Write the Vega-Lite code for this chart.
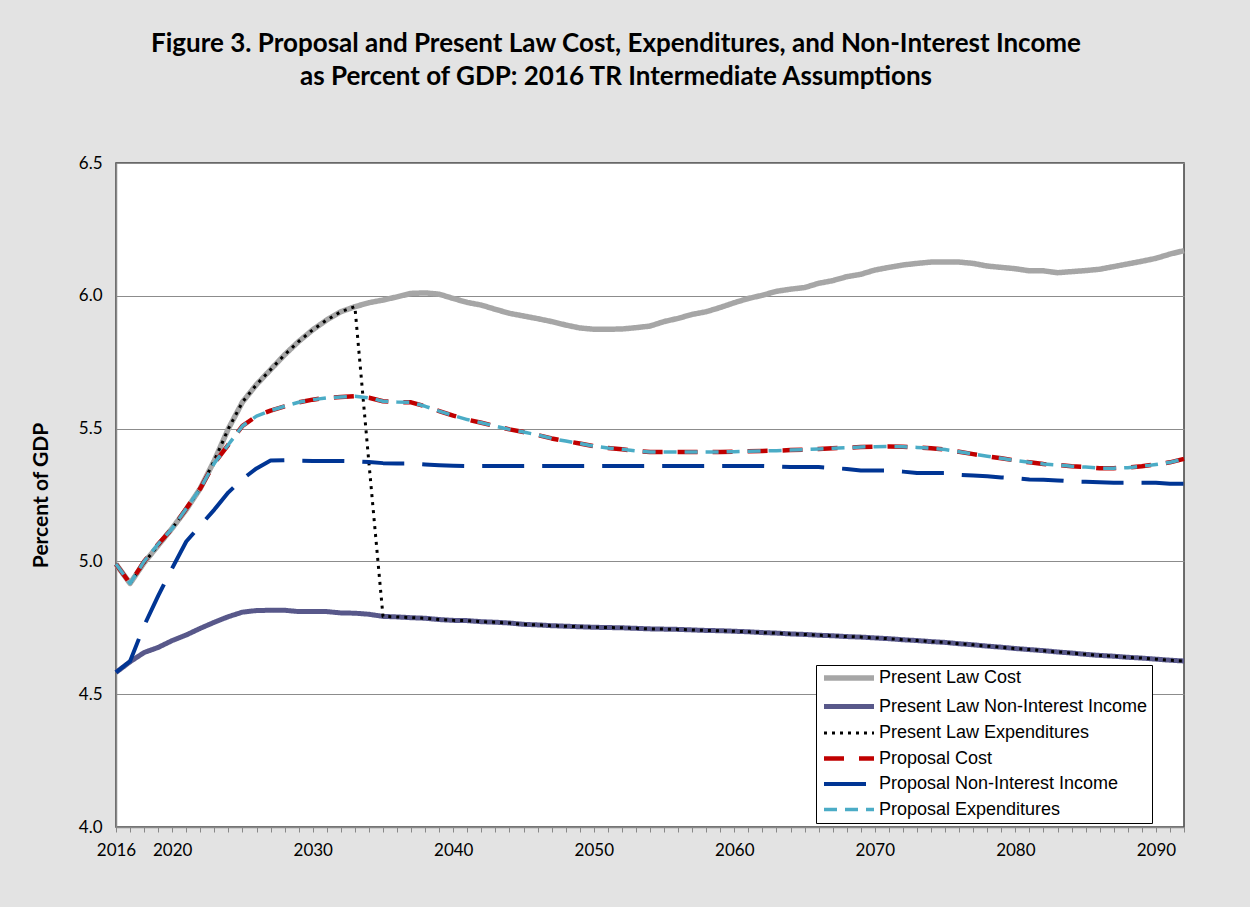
{
  "$schema": "https://vega.github.io/schema/vega-lite/v6.json",
  "width": 1068,
  "height": 664,
  "autosize": {"type": "none"},
  "padding": {"left": 116, "top": 163, "right": 66, "bottom": 80},
  "background": "#E3E3E3",
  "title": {
    "text": ["Figure 3. Proposal and Present Law Cost, Expenditures, and Non-Interest Income", "as Percent of GDP: 2016 TR Intermediate Assumptions"],
    "font": "Lato", "fontSize": 26, "fontWeight": "bold", "color": "#000000",
    "anchor": "middle", "lineHeight": 33, "offset": 64, "dx": -34
  },
  "config": {"view": {"fill": "white", "stroke": "#404040", "strokeWidth": 1.5}},
  "data": {"values": [
    {"year":2016,"plc":4.99,"pli":4.582,"ple":4.99,"pc":4.99,"pi":4.582,"pe":4.99},
    {"year":2017,"plc":4.917,"pli":4.622,"ple":4.917,"pc":4.917,"pi":4.624,"pe":4.917},
    {"year":2018,"plc":4.995,"pli":4.657,"ple":4.995,"pc":5.0,"pi":4.758,"pe":5.0},
    {"year":2019,"plc":5.06,"pli":4.676,"ple":5.06,"pc":5.065,"pi":4.87,"pe":5.065},
    {"year":2020,"plc":5.125,"pli":4.702,"ple":5.125,"pc":5.124,"pi":4.975,"pe":5.124},
    {"year":2021,"plc":5.195,"pli":4.723,"ple":5.195,"pc":5.199,"pi":5.075,"pe":5.199},
    {"year":2022,"plc":5.275,"pli":4.748,"ple":5.275,"pc":5.275,"pi":5.135,"pe":5.275},
    {"year":2023,"plc":5.38,"pli":4.771,"ple":5.38,"pc":5.37,"pi":5.195,"pe":5.37},
    {"year":2024,"plc":5.5,"pli":4.792,"ple":5.5,"pc":5.44,"pi":5.26,"pe":5.44},
    {"year":2025,"plc":5.6,"pli":4.809,"ple":5.6,"pc":5.51,"pi":5.31,"pe":5.51},
    {"year":2026,"plc":5.666,"pli":4.815,"ple":5.666,"pc":5.547,"pi":5.35,"pe":5.547},
    {"year":2027,"plc":5.722,"pli":4.816,"ple":5.722,"pc":5.568,"pi":5.38,"pe":5.568},
    {"year":2028,"plc":5.778,"pli":4.816,"ple":5.778,"pc":5.584,"pi":5.381,"pe":5.584},
    {"year":2029,"plc":5.828,"pli":4.811,"ple":5.828,"pc":5.599,"pi":5.379,"pe":5.599},
    {"year":2030,"plc":5.872,"pli":4.811,"ple":5.872,"pc":5.609,"pi":5.378,"pe":5.609},
    {"year":2031,"plc":5.909,"pli":4.811,"ple":5.909,"pc":5.616,"pi":5.378,"pe":5.616},
    {"year":2032,"plc":5.94,"pli":4.806,"ple":5.94,"pc":5.619,"pi":5.378,"pe":5.619},
    {"year":2033,"plc":5.959,"pli":4.805,"ple":5.959,"pc":5.622,"pi":5.377,"pe":5.622},
    {"year":2034,"plc":5.974,"pli":4.801,"ple":5.37,"pc":5.616,"pi":5.374,"pe":5.616},
    {"year":2035,"plc":5.984,"pli":4.793,"ple":4.793,"pc":5.603,"pi":5.37,"pe":5.603},
    {"year":2036,"plc":5.996,"pli":4.791,"ple":4.791,"pc":5.6,"pi":5.369,"pe":5.6},
    {"year":2037,"plc":6.009,"pli":4.788,"ple":4.788,"pc":5.599,"pi":5.369,"pe":5.599},
    {"year":2038,"plc":6.011,"pli":4.786,"ple":4.786,"pc":5.584,"pi":5.365,"pe":5.584},
    {"year":2039,"plc":6.006,"pli":4.781,"ple":4.781,"pc":5.566,"pi":5.362,"pe":5.566},
    {"year":2040,"plc":5.99,"pli":4.778,"ple":4.778,"pc":5.549,"pi":5.36,"pe":5.549},
    {"year":2041,"plc":5.975,"pli":4.777,"ple":4.777,"pc":5.534,"pi":5.359,"pe":5.534},
    {"year":2042,"plc":5.965,"pli":4.773,"ple":4.773,"pc":5.522,"pi":5.359,"pe":5.522},
    {"year":2043,"plc":5.949,"pli":4.771,"ple":4.771,"pc":5.509,"pi":5.359,"pe":5.509},
    {"year":2044,"plc":5.934,"pli":4.768,"ple":4.768,"pc":5.497,"pi":5.359,"pe":5.497},
    {"year":2045,"plc":5.924,"pli":4.763,"ple":4.763,"pc":5.487,"pi":5.359,"pe":5.487},
    {"year":2046,"plc":5.914,"pli":4.761,"ple":4.761,"pc":5.476,"pi":5.359,"pe":5.476},
    {"year":2047,"plc":5.903,"pli":4.758,"ple":4.758,"pc":5.463,"pi":5.359,"pe":5.463},
    {"year":2048,"plc":5.89,"pli":4.756,"ple":4.756,"pc":5.453,"pi":5.359,"pe":5.453},
    {"year":2049,"plc":5.879,"pli":4.754,"ple":4.754,"pc":5.444,"pi":5.359,"pe":5.444},
    {"year":2050,"plc":5.874,"pli":4.752,"ple":4.752,"pc":5.434,"pi":5.359,"pe":5.434},
    {"year":2051,"plc":5.874,"pli":4.751,"ple":4.751,"pc":5.427,"pi":5.359,"pe":5.427},
    {"year":2052,"plc":5.875,"pli":4.75,"ple":4.75,"pc":5.422,"pi":5.359,"pe":5.422},
    {"year":2053,"plc":5.88,"pli":4.748,"ple":4.748,"pc":5.416,"pi":5.359,"pe":5.416},
    {"year":2054,"plc":5.886,"pli":4.746,"ple":4.746,"pc":5.412,"pi":5.359,"pe":5.412},
    {"year":2055,"plc":5.903,"pli":4.745,"ple":4.745,"pc":5.412,"pi":5.359,"pe":5.412},
    {"year":2056,"plc":5.915,"pli":4.744,"ple":4.744,"pc":5.412,"pi":5.359,"pe":5.412},
    {"year":2057,"plc":5.93,"pli":4.742,"ple":4.742,"pc":5.412,"pi":5.359,"pe":5.412},
    {"year":2058,"plc":5.94,"pli":4.74,"ple":4.74,"pc":5.412,"pi":5.359,"pe":5.412},
    {"year":2059,"plc":5.956,"pli":4.739,"ple":4.739,"pc":5.412,"pi":5.359,"pe":5.412},
    {"year":2060,"plc":5.974,"pli":4.737,"ple":4.737,"pc":5.413,"pi":5.359,"pe":5.413},
    {"year":2061,"plc":5.99,"pli":4.735,"ple":4.735,"pc":5.415,"pi":5.359,"pe":5.415},
    {"year":2062,"plc":6.002,"pli":4.732,"ple":4.732,"pc":5.416,"pi":5.359,"pe":5.416},
    {"year":2063,"plc":6.017,"pli":4.73,"ple":4.73,"pc":5.417,"pi":5.357,"pe":5.417},
    {"year":2064,"plc":6.025,"pli":4.727,"ple":4.727,"pc":5.419,"pi":5.355,"pe":5.419},
    {"year":2065,"plc":6.031,"pli":4.725,"ple":4.725,"pc":5.421,"pi":5.355,"pe":5.421},
    {"year":2066,"plc":6.047,"pli":4.722,"ple":4.722,"pc":5.423,"pi":5.355,"pe":5.423},
    {"year":2067,"plc":6.057,"pli":4.72,"ple":4.72,"pc":5.426,"pi":5.352,"pe":5.426},
    {"year":2068,"plc":6.072,"pli":4.717,"ple":4.717,"pc":5.428,"pi":5.348,"pe":5.428},
    {"year":2069,"plc":6.081,"pli":4.715,"ple":4.715,"pc":5.431,"pi":5.342,"pe":5.431},
    {"year":2070,"plc":6.097,"pli":4.712,"ple":4.712,"pc":5.432,"pi":5.342,"pe":5.432},
    {"year":2071,"plc":6.107,"pli":4.709,"ple":4.709,"pc":5.433,"pi":5.342,"pe":5.433},
    {"year":2072,"plc":6.116,"pli":4.705,"ple":4.705,"pc":5.432,"pi":5.338,"pe":5.432},
    {"year":2073,"plc":6.122,"pli":4.702,"ple":4.702,"pc":5.429,"pi":5.333,"pe":5.429},
    {"year":2074,"plc":6.127,"pli":4.698,"ple":4.698,"pc":5.426,"pi":5.333,"pe":5.426},
    {"year":2075,"plc":6.127,"pli":4.695,"ple":4.695,"pc":5.421,"pi":5.333,"pe":5.421},
    {"year":2076,"plc":6.127,"pli":4.69,"ple":4.69,"pc":5.413,"pi":5.326,"pe":5.413},
    {"year":2077,"plc":6.122,"pli":4.686,"ple":4.686,"pc":5.404,"pi":5.323,"pe":5.404},
    {"year":2078,"plc":6.112,"pli":4.681,"ple":4.681,"pc":5.396,"pi":5.321,"pe":5.396},
    {"year":2079,"plc":6.107,"pli":4.677,"ple":4.677,"pc":5.388,"pi":5.316,"pe":5.388},
    {"year":2080,"plc":6.102,"pli":4.672,"ple":4.672,"pc":5.38,"pi":5.313,"pe":5.38},
    {"year":2081,"plc":6.094,"pli":4.668,"ple":4.668,"pc":5.373,"pi":5.308,"pe":5.373},
    {"year":2082,"plc":6.094,"pli":4.664,"ple":4.664,"pc":5.367,"pi":5.307,"pe":5.367},
    {"year":2083,"plc":6.087,"pli":4.659,"ple":4.659,"pc":5.363,"pi":5.305,"pe":5.363},
    {"year":2084,"plc":6.091,"pli":4.655,"ple":4.655,"pc":5.358,"pi":5.301,"pe":5.358},
    {"year":2085,"plc":6.095,"pli":4.65,"ple":4.65,"pc":5.355,"pi":5.3,"pe":5.355},
    {"year":2086,"plc":6.1,"pli":4.646,"ple":4.646,"pc":5.351,"pi":5.298,"pe":5.351},
    {"year":2087,"plc":6.11,"pli":4.643,"ple":4.643,"pc":5.351,"pi":5.296,"pe":5.351},
    {"year":2088,"plc":6.12,"pli":4.639,"ple":4.639,"pc":5.353,"pi":5.296,"pe":5.353},
    {"year":2089,"plc":6.13,"pli":4.636,"ple":4.636,"pc":5.358,"pi":5.296,"pe":5.358},
    {"year":2090,"plc":6.141,"pli":4.632,"ple":4.632,"pc":5.365,"pi":5.296,"pe":5.365},
    {"year":2091,"plc":6.157,"pli":4.628,"ple":4.628,"pc":5.373,"pi":5.292,"pe":5.373},
    {"year":2092,"plc":6.17,"pli":4.625,"ple":4.625,"pc":5.386,"pi":5.292,"pe":5.386}
  ]},
  "transform": [{"fold": ["plc", "pli", "ple", "pc", "pi", "pe"], "as": ["series", "value"]}],
  "encoding": {
    "x": {
      "field": "year", "type": "quantitative",
      "scale": {"domain": [2016, 2092], "nice": false, "zero": false},
      "axis": {
        "title": null, "grid": false,
        "values": [2016,2017,2018,2019,2020,2021,2022,2023,2024,2025,2026,2027,2028,2029,2030,2031,2032,2033,2034,2035,2036,2037,2038,2039,2040,2041,2042,2043,2044,2045,2046,2047,2048,2049,2050,2051,2052,2053,2054,2055,2056,2057,2058,2059,2060,2061,2062,2063,2064,2065,2066,2067,2068,2069,2070,2071,2072,2073,2074,2075,2076,2077,2078,2079,2080,2081,2082,2083,2084,2085,2086,2087,2088,2089,2090,2091,2092],
        "format": "d",
        "labelExpr": "(datum.value == 2016 || datum.value % 10 == 0) ? datum.label : ''",
        "labelOverlap": false, "labelFlush": false,
        "tickSize": 5, "tickColor": "#888888", "domainColor": "#888888", "domainWidth": 1.5,
        "labelPadding": 10, "labelFont": "Lato", "labelFontSize": 17, "labelColor": "#000000"
      }
    },
    "y": {
      "field": "value", "type": "quantitative",
      "scale": {"domain": [4, 6.5], "nice": false, "zero": false},
      "axis": {
        "title": "Percent of GDP", "values": [4, 4.5, 5, 5.5, 6, 6.5], "format": ".1f",
        "grid": true, "gridColor": "#8C8C8C", "gridWidth": 1.2,
        "ticks": false, "domainColor": "#888888", "domainWidth": 1.5,
        "labelPadding": 14, "labelFont": "Lato", "labelFontSize": 17, "labelColor": "#000000",
        "titleFont": "Lato", "titleFontSize": 21, "titleFontWeight": "bold", "titleColor": "#000000",
        "titlePadding": 27
      }
    },
    "color": {
      "field": "series", "type": "nominal",
      "scale": {"domain": ["plc", "pli", "ple", "pc", "pi", "pe"], "range": ["#A6A6A6", "#58588A", "#000000", "#C00000", "#003594", "#4BACC6"]},
      "legend": {
        "title": null, "orient": "none", "legendX": 700, "legendY": 502,
        "labelExpr": "{'plc':'Present Law Cost','pli':'Present Law Non-Interest Income','ple':'Present Law Expenditures','pc':'Proposal Cost','pi':'Proposal Non-Interest Income','pe':'Proposal Expenditures'}[datum.label]",
        "symbolType": "M-1,0H9", "symbolSize": 100, "symbolOffset": 0,
        "labelFont": "Liberation Sans", "labelFontSize": 18, "labelColor": "#000000", "labelLimit": 500,
        "labelOffset": 41, "rowPadding": 7.5, "padding": 4,
        "strokeColor": "#000000", "fillColor": "#FFFFFF"
      }
    },
    "strokeDash": {
      "field": "series", "type": "nominal",
      "scale": {"domain": ["plc", "pli", "ple", "pc", "pi", "pe"], "range": [[1, 0], [1, 0], [3, 5], [20, 15], [42, 18], [13, 8]]}
    },
    "strokeWidth": {
      "field": "series", "type": "nominal",
      "scale": {"type": "ordinal", "domain": ["plc", "pli", "ple", "pc", "pi", "pe"], "range": [5.5, 5, 3, 4.5, 4, 3.5]}
    }
  },
  "layer": [
    {"transform": [{"filter": "datum.series == 'plc'"}], "mark": {"type": "line", "strokeCap": "butt", "strokeJoin": "round"}},
    {"transform": [{"filter": "datum.series == 'pli'"}], "mark": {"type": "line", "strokeCap": "butt", "strokeJoin": "round"}},
    {"transform": [{"filter": "datum.series == 'ple'"}], "mark": {"type": "line", "strokeCap": "butt", "strokeJoin": "round"}},
    {"transform": [{"filter": "datum.series == 'pc'"}], "mark": {"type": "line", "strokeCap": "butt", "strokeJoin": "round"}},
    {"transform": [{"filter": "datum.series == 'pi'"}], "mark": {"type": "line", "strokeCap": "butt", "strokeJoin": "round"}},
    {"transform": [{"filter": "datum.series == 'pe'"}], "mark": {"type": "line", "strokeCap": "butt", "strokeJoin": "round"}}
  ]
}
